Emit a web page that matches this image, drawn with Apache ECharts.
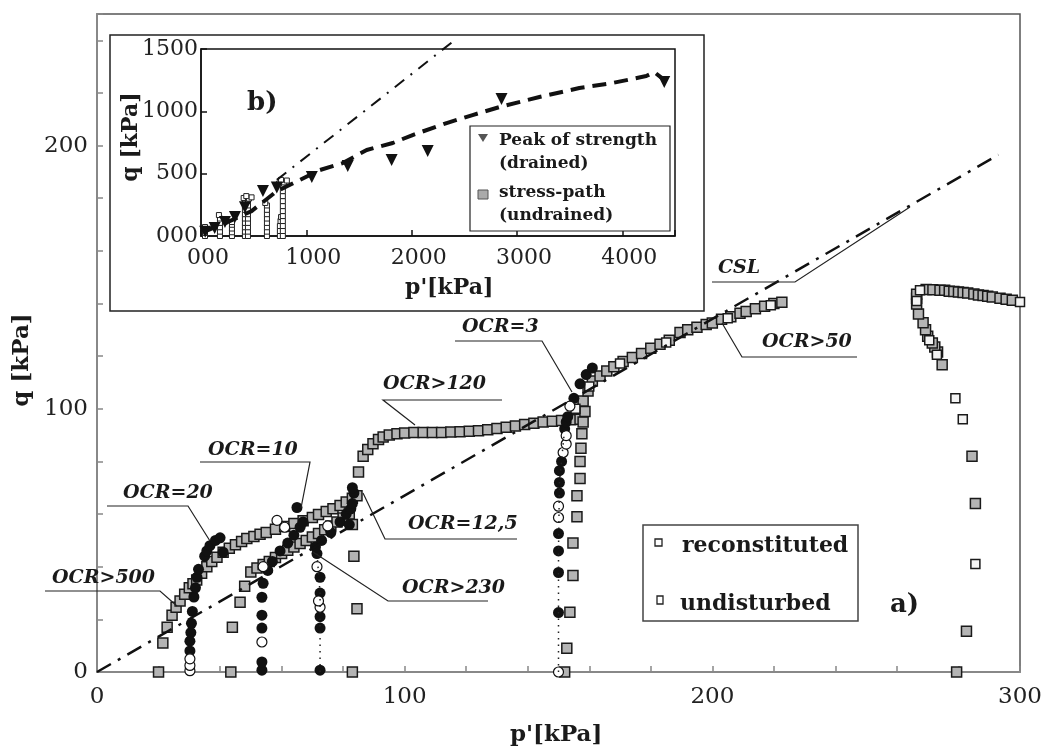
<!DOCTYPE html>
<html>
<head>
<meta charset="utf-8">
<script src="https://cdn.jsdelivr.net/npm/echarts@6/dist/echarts.min.js"></script>
<style>
html, body { margin: 0; padding: 0; background: #fff; }
#chart { width: 1050px; height: 749px; }
</style>
</head>
<body>
<div id="chart"></div>
<script>
// ---------- a) main plot: q vs p' [kPa] ----------
const cslLine = [[0, 0], [293, 196.5]];

// grey squares (stress paths, OCR>500, OCR>230, OCR>120, OCR>50, right path)
const undisturbed = [
  [20,0],[21.4,11],[22.8,17],[24.4,21.6],[25.7,24.6],[27,27],[28.5,29.5],[30,32],[31.2,33.5],[32.4,35],[34,37.5],
  [35.7,40],[37.3,42],[39,43.6],[41,45.5],[43,47],[45,48.3],[47,49.6],[48.7,50.7],[51,51.5],[53,52.3],[55,53],
  [58,54.2],[61,55.3],[64,56.4],[67,57.5],[70,58.7],[72,59.8],[74.5,61],[76.7,62],[79,63.3],[81,64.6],[83,66],[84.5,67],
  [43.5,0],[44,17],[46.5,26.5],[48,32.6],[50,38],[52,39.5],[54,40.8],[56,42],[58,43.5],[60,45],[62,46.3],[64,47.5],
  [66,48.8],[68,50],[70,51.3],[72,52.6],[74,54],[76,55.5],[78,57],[80,58.5],[82,60],
  [83,0],[84.5,24],[83.5,44],[83,56],[85,76],[86.5,82],[88,84.5],[89.7,86.7],[91.5,88.3],[93,89.3],[95,90],[97.5,90.5],
  [100,90.8],[103,91],[106,91],[109,91],[112,91],[115,91.2],[118,91.3],[121,91.5],[124,91.7],[127,92],[130,92.5],
  [133,93],[136,93.5],[139,94],[142,94.5],[145,95],[148,95.3],[151,95.6],[154,95.8],[157,96],
  [152,0],[152.7,9],[153.7,22.7],[154.7,36.7],[154.7,49],[156,59],[156,67],[157,73.5],[157,80],[157.3,85],[157.6,90.5],
  [158,95],[158.6,99],[158,103],[159.6,106.8],[161,110.6],[163.5,112.5],[165.7,114.4],[168,116],[171,118],[174,119.5],
  [177,121],[180,123],[183,124.5],[186,126],[189.5,129],[192,130],[195,131],[198,132],[200,132.6],[203,134],[206,135],
  [209,136.3],[211,137],[214,138],[217,139],[220,140],[222.6,140.5],
  [279.4,0],[282.6,15.5],[285.5,64],[284.4,82],[274.7,116.7],[273.2,121.6],[272.3,123.5],[271.5,125],[270,127.6],
  [269.3,130],[268.5,132.7],[267,136],[266.4,139.8],[266.4,142],[266.4,143.5],[269.5,145.3],[271.7,145.2],[274,145],
  [275.5,145],[277,144.7],[278.5,144.6],[280,144.4],[281.5,144.2],[283,144],[285,143.6],[286.5,143.2],[288,143],
  [289.5,142.8],[291,142.5],[293.5,142],[295.5,141.6],[297.5,141.2]
];
// white squares
const reconstituted = [
  [279,104],[281.4,96],[285.5,41],[300,140.6],[267.5,145],[266.4,141],[270.5,126],[273,120.5],
  [155.5,100],[160,108.5],[170,117.2],[185,125.2],[205,134.4],[219,139.3]
];
// black circles (OCR=20, OCR=10, OCR=12,5, OCR=3)
const blackCircles = [
  [30.2,8],[30.2,11.7],[30.5,15],[30.7,18.5],[31,23],[31.5,28.5],[32,32],[32.5,36],[33,39],[35,44],[35.7,46],
  [36.7,48],[38.5,50],[40,51],[41,45.5],
  [53.6,0.7],[53.6,3.8],[53.6,16.7],[53.6,21.6],[53.6,28.4],[54,33.7],[55.5,38.6],[57,42],[59.5,46],[62,49],[64,52],
  [66,55],[67,57],[65,62.5],
  [72.5,0.7],[72.5,16.7],[72.5,21],[72.5,30],[72.5,36],[71.5,45],[71,47.5],[73,50],[76,53],[79,57],[81,60],[82.5,62],
  [83,64],[83.5,68],[83,70],[82,56],
  [150,22.6],[150,37.8],[150,46],[150,52.6],[150.3,68],[150.3,72],[150.3,76.5],[151,80],[152,92.4],[152.5,95],
  [153,97],[155,104],[157,109.5],[159,113],[161,115.5]
];
const whiteCircles = [
  [30.2,0.5],[30.2,2.5],[30.2,5],[53.6,11.4],[54,40],[58.5,57.6],[61,55],[72.5,24.6],[72,27],[71.5,40],[75,55.5],
  [150,0],[150,58.7],[150,63],[151.5,83.4],[152.5,86.6],[152.5,89.8],[153.7,101]
];
const dotted12 = [[72.5,0],[72.5,16.7],[72.5,30],[71.5,45]];
const dotted3 = [[150,0],[150,22.6],[150,46],[150.3,72],[152,92.4]];

// ---------- b) inset ----------
const insetCsl = [[720,450],[2410,1572]];
const peakLine = [
  [30,35],[250,110],[480,200],[720,360],[891,430],[1128,529],[1346,585],[1573,690],[1820,746],[2009,810],
  [2332,906],[2578,970],[2834,1034],[3213,1115],[3592,1187],[3905,1227],[4227,1283],[4303,1315],[4370,1270]
];
const peaks = [
  [40,35],[130,64],[227,112],[322,152],[417,230],[588,361],[720,390],[1052,473],[1393,561],[1810,609],
  [2152,682],[2853,1099],[4398,1235]
];
const insetPaths = [
  [38,0],[38,25],[38,50],[38,72],
  [180,0],[180,35],[180,70],[180,105],[180,140],[170,168],
  [294,0],[294,30],[294,60],[294,90],[294,112],
  [417,0],[417,35],[417,70],[417,105],[417,140],[417,175],[417,210],[417,245],[417,280],[405,305],
  [446,0],[446,35],[446,70],[446,105],[446,140],[446,175],[446,210],[446,245],[446,280],[455,300],[480,310],[430,320],
  [626,0],[626,35],[626,70],[626,105],[626,140],[626,175],[626,210],[626,245],[610,265],
  [749,0],[749,40],[749,80],[755,120],[760,152],
  [777,0],[777,40],[777,80],[777,120],[777,160],[777,200],[777,240],[777,280],[777,320],[777,360],[777,400],
  [740,420],[790,430],[815,445],[760,450]
];

// tick labels
const mainXLabels = [0, 100, 200, 300];
const mainYLabels = [0, 100, 200];
const insetXLabels = ['000', '1000', '2000', '3000', '4000'];
const insetYLabels = ['000', '500', '1000', '1500'];

const serif = "'DejaVu Serif', serif";
const chart = echarts.init(document.getElementById('chart'));

function text(x, y, s, font, extra) {
  return Object.assign({
    type: 'text', x: x, y: y, z: 100,
    style: { text: s, font: font, fill: '#1a1a1a', textAlign: 'left', textVerticalAlign: 'middle',
      align: 'left', verticalAlign: 'middle' }
  }, extra || {});
}
function line(points, w) {
  return { type: 'polyline', z: 100, shape: { points: points },
    style: { stroke: '#222', lineWidth: w || 1.2, fill: null } };
}
const ocrFont = 'italic bold 19px ' + serif;

let option = {
  animation: false,
  backgroundColor: '#fff',
  grid: [
    { left: 97, right: 30, top: 14, bottom: 77, show: true, borderColor: '#555', borderWidth: 1.5 },
    { left: 201, right: 375, top: 49, bottom: 513, show: true, borderColor: '#111', borderWidth: 1.5 }
  ],
  xAxis: [
    { type: 'value', gridIndex: 0, min: 0, max: 300, interval: 20,
      axisLine: { lineStyle: { color: '#888', width: 2 } },
      axisTick: { inside: true, length: 6, lineStyle: { color: '#888', width: 1.5 } },
      splitLine: { show: false },
      axisLabel: { margin: 14, fontFamily: serif, fontSize: 23, color: '#222',
        formatter: v => mainXLabels.includes(v) ? String(v) : '' } },
    { type: 'value', gridIndex: 1, min: 0, max: 4500, interval: 1000,
      axisLine: { lineStyle: { color: '#111', width: 1.5 } },
      axisTick: { inside: true, length: 6, lineStyle: { color: '#111', width: 1.5 } },
      splitLine: { show: false },
      axisLabel: { margin: 11, fontFamily: serif, fontSize: 22, color: '#222', padding: [0, 0, 0, 14],
        formatter: v => insetXLabels[v / 1000] || '' } }
  ],
  yAxis: [
    { type: 'value', gridIndex: 0, min: 0, max: 250, interval: 20,
      axisLine: { lineStyle: { color: '#888', width: 2 } },
      axisTick: { inside: true, length: 6, lineStyle: { color: '#888', width: 1.5 } },
      splitLine: { show: false },
      axisLabel: { margin: 9, fontFamily: serif, fontSize: 23, color: '#222',
        formatter: v => mainYLabels.includes(v) ? String(v) : '' } },
    { type: 'value', gridIndex: 1, min: 0, max: 1500, interval: 500,
      axisLine: { lineStyle: { color: '#111', width: 1.5 } },
      axisTick: { inside: true, length: 6, lineStyle: { color: '#111', width: 1.5 } },
      splitLine: { show: false },
      axisLabel: { margin: 3, fontFamily: serif, fontSize: 22, color: '#222',
        formatter: v => insetYLabels[v / 500] || '' } }
  ],
  series: [
    { name: 'CSL', type: 'line', xAxisIndex: 0, yAxisIndex: 0, data: cslLine, symbol: 'none',
      lineStyle: { color: '#111', width: 2.5, type: [16, 8, 3, 8] } },
    { name: 'dotted12', type: 'line', xAxisIndex: 0, yAxisIndex: 0, data: dotted12, symbol: 'none',
      lineStyle: { color: '#222', width: 1.5, type: [1.5, 5] } },
    { name: 'dotted3', type: 'line', xAxisIndex: 0, yAxisIndex: 0, data: dotted3, symbol: 'none',
      lineStyle: { color: '#222', width: 1.5, type: [1.5, 5] } },
    { name: 'undisturbed', type: 'scatter', xAxisIndex: 0, yAxisIndex: 0, data: undisturbed,
      symbol: 'rect', symbolSize: 10,
      itemStyle: { color: '#b4b4b4', borderColor: '#1a1a1a', borderWidth: 1.5, opacity: 1 } },
    { name: 'reconstituted', type: 'scatter', xAxisIndex: 0, yAxisIndex: 0, data: reconstituted,
      symbol: 'rect', symbolSize: 9,
      itemStyle: { color: '#f4f4f4', borderColor: '#1a1a1a', borderWidth: 1.5, opacity: 1 } },
    { name: 'black', type: 'scatter', xAxisIndex: 0, yAxisIndex: 0, data: blackCircles,
      symbol: 'circle', symbolSize: 11, itemStyle: { color: '#111', opacity: 1 } },
    { name: 'white', type: 'scatter', xAxisIndex: 0, yAxisIndex: 0, data: whiteCircles,
      symbol: 'circle', symbolSize: 10,
      itemStyle: { color: '#fff', borderColor: '#111', borderWidth: 1.2, opacity: 1 } },

    { name: 'insetCsl', type: 'line', xAxisIndex: 1, yAxisIndex: 1, data: insetCsl, symbol: 'none', clip: false,
      lineStyle: { color: '#111', width: 2, type: [12, 8, 2, 8] } },
    { name: 'peakLine', type: 'line', xAxisIndex: 1, yAxisIndex: 1, data: peakLine, symbol: 'none',
      lineStyle: { color: '#111', width: 4, type: [14, 8] } },
    { name: 'insetPaths', type: 'scatter', xAxisIndex: 1, yAxisIndex: 1, data: insetPaths,
      symbol: 'rect', symbolSize: 5,
      itemStyle: { color: '#fff', borderColor: '#222', borderWidth: 1, opacity: 1 } },
    { name: 'peaks', type: 'scatter', xAxisIndex: 1, yAxisIndex: 1, data: peaks,
      symbol: 'triangle', symbolRotate: 180, symbolSize: 12, itemStyle: { color: '#111', opacity: 1 } }
  ],
  graphic: [
    // axis names
    text(22, 360, 'q [kPa]', '', { rotation: Math.PI / 2,
      style: { text: 'q [kPa]', font: 'bold 23px ' + serif, fill: '#1a1a1a', textAlign: 'center',
        textVerticalAlign: 'middle', align: 'center', verticalAlign: 'middle' } }),
    text(510, 735, "p'[kPa]", 'bold 23px ' + serif),
    // inset frame and labels
    { type: 'rect', z: 90, shape: { x: 110, y: 35, width: 594, height: 276 },
      style: { fill: null, stroke: '#222', lineWidth: 1.5 } },
    text(131, 137, 'q [kPa]', '', { rotation: Math.PI / 2,
      style: { text: 'q [kPa]', font: 'bold 22px ' + serif, fill: '#1a1a1a', textAlign: 'center',
        textVerticalAlign: 'middle', align: 'center', verticalAlign: 'middle' } }),
    text(405, 288, "p'[kPa]", 'bold 22px ' + serif),
    text(247, 103, 'b)', 'bold 26px ' + serif),
    { type: 'rect', z: 95, shape: { x: 470, y: 126, width: 200, height: 105 },
      style: { fill: '#fff', stroke: '#222', lineWidth: 1.2 } },
    { type: 'polygon', z: 100, shape: { points: [[478, 134], [488, 134], [483, 142]] }, style: { fill: '#555' } },
    { type: 'rect', z: 100, shape: { x: 478, y: 190, width: 10, height: 9 },
      style: { fill: '#aaa', stroke: '#555', lineWidth: 1 } },
    text(499, 141, 'Peak of strength', 'bold 17px ' + serif),
    text(499, 164, '(drained)', 'bold 17px ' + serif),
    text(499, 193, 'stress-path', 'bold 17px ' + serif),
    text(499, 216, '(undrained)', 'bold 17px ' + serif),
    // main legend
    { type: 'rect', z: 95, shape: { x: 643, y: 525, width: 215, height: 96 },
      style: { fill: '#fff', stroke: '#444', lineWidth: 1.5 } },
    { type: 'rect', z: 100, shape: { x: 655, y: 539, width: 7, height: 7 },
      style: { fill: '#fff', stroke: '#222', lineWidth: 1.3 } },
    { type: 'rect', z: 100, shape: { x: 657, y: 596, width: 6, height: 8 },
      style: { fill: '#fff', stroke: '#222', lineWidth: 1.3 } },
    text(682, 546, 'reconstituted', 'bold 22px ' + serif),
    text(680, 604, 'undisturbed', 'bold 22px ' + serif),
    text(890, 605, 'a)', 'bold 26px ' + serif),
    // OCR annotations
    text(52, 578, 'OCR>500', ocrFont), line([[45, 591], [160, 591], [177, 606]]),
    text(123, 493, 'OCR=20', ocrFont), line([[107, 506], [188, 506], [210, 541]]),
    text(208, 450, 'OCR=10', ocrFont), line([[200, 462], [310, 462], [301, 508]]),
    text(408, 524, 'OCR=12,5', ocrFont), line([[517, 539], [385, 539], [363, 493]]),
    text(402, 588, 'OCR>230', ocrFont), line([[488, 601], [388, 601], [313, 552]]),
    text(383, 384, 'OCR>120', ocrFont), line([[502, 400], [383, 400], [415, 425]]),
    text(462, 327, 'OCR=3', ocrFont), line([[455, 341], [542, 341], [572, 392]]),
    text(762, 342, 'OCR>50', ocrFont), line([[857, 357], [742, 357], [722, 323]]),
    text(718, 268, 'CSL', ocrFont), line([[712, 282], [795, 282], [910, 207]])
  ]
};
chart.setOption(option);
</script>
</body>
</html>
